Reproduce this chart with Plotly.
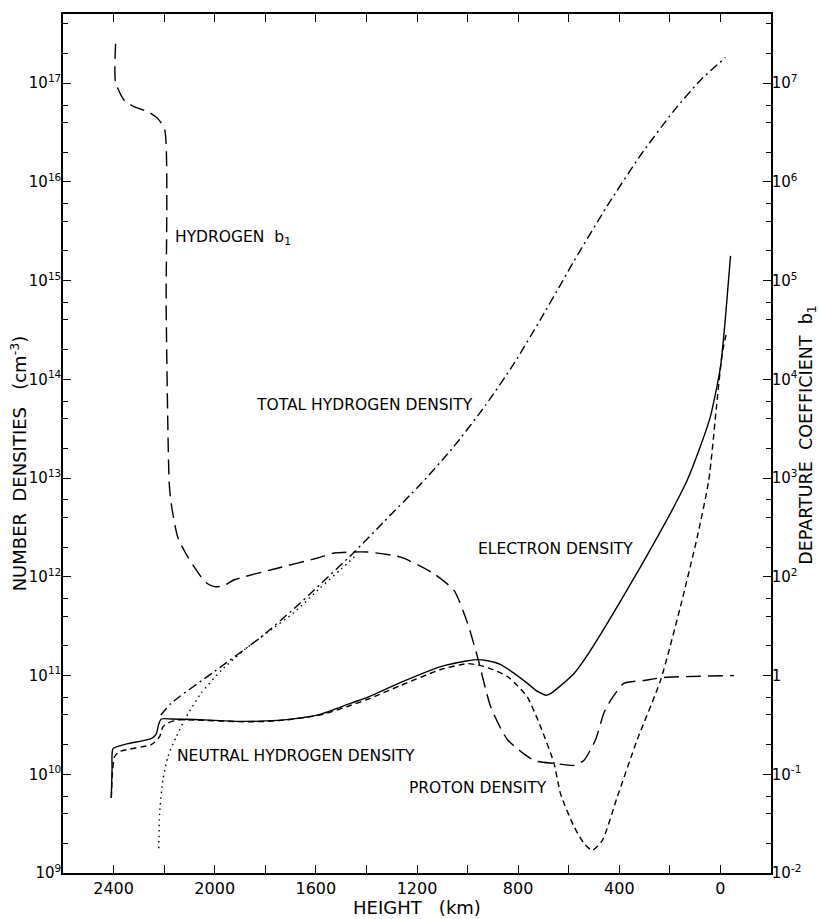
import plotly.graph_objects as go

# ---- Heights (km) and number densities (cm^-3) ----
height_e = [2409, 2406, 2402, 2343, 2251, 2231, 2221, 2211, 2172, 2080, 1960, 1882, 1751,
            1659, 1580, 1461, 1394, 1264, 1106, 1000, 961, 920, 869, 820, 763, 730, 700,
            691, 670, 640, 579, 520, 447, 380, 316, 250, 190, 131, 85, 40, 0, -20, -40]
electron = [5.75e9, 1.12e10, 1.82e10, 2.04e10, 2.29e10, 2.57e10, 3.24e10, 3.63e10, 3.63e10,
            3.59e10, 3.47e10, 3.43e10, 3.51e10, 3.72e10, 4.07e10, 5.25e10, 6.03e10, 8.51e10,
            1.23e11, 1.41e11, 1.45e11, 1.41e11, 1.29e11, 1.07e11, 8.32e10, 7.08e10, 6.46e10,
            6.31e10, 6.61e10, 7.59e10, 1.05e11, 1.70e11, 3.39e11, 6.61e11, 1.26e12, 2.51e12,
            4.79e12, 9.55e12, 1.91e13, 4.17e13, 1.32e14, 4.27e14, 1.78e15]

height_p = [2409, 2405, 2396, 2376, 2251, 2218, 2205, 2185, 2150, 2080, 1882, 1751, 1580,
            1461, 1395, 1264, 1106, 1000, 948, 900, 842, 800, 763, 711, 658, 632, 579, 540,
            507, 467, 408, 329, 237, 158, 92, 46, 13, -7, -22]
proton = [5.75e9, 1.0e10, 1.51e10, 1.70e10, 2.0e10, 2.40e10, 3.02e10, 3.31e10, 3.55e10,
          3.55e10, 3.40e10, 3.48e10, 4.0e10, 5.0e10, 5.75e10, 7.94e10, 1.15e11, 1.32e11,
          1.26e11, 1.15e11, 9.77e10, 7.76e10, 6.03e10, 3.02e10, 1.29e10, 6.3e9, 2.95e9,
          2.0e9, 1.70e9, 2.14e9, 5.89e9, 2.24e10, 8.91e10, 5.01e11, 2.51e12, 9.55e12,
          6.17e13, 1.82e14, 2.82e14]

height_n = [2221, 2218, 2205, 2185, 2152, 2113, 2054, 1975, 1883, 1790, 1685, 1586, 1500, 1440]
neutral = [1.78e9, 3.98e9, 8.71e9, 1.51e10, 2.40e10, 3.80e10, 6.61e10, 1.12e11, 1.82e11,
           2.75e11, 4.37e11, 7.59e11, 1.2e12, 1.66e12]

height_t = [2213, 2172, 2001, 1817, 1685, 1580, 1448, 1330, 1185, 1060, 928, 816, 711, 632,
            579, 447, 316, 184, 79, -20]
total_h = [3.98e10, 5.25e10, 1.10e11, 2.45e11, 4.79e11, 8.51e11, 1.78e12, 3.63e12, 8.71e12,
           2.0e13, 5.50e13, 1.45e14, 4.07e14, 9.12e14, 1.58e15, 5.75e15, 1.86e16, 5.25e16,
           1.07e17, 1.82e17]

# ---- Hydrogen ground-level departure coefficient ----
height_b = [2392, 2392, 2356, 2317, 2264, 2225, 2198, 2192, 2180, 2172, 2146, 2106, 2054,
            2028, 2001, 1965, 1922, 1764, 1593, 1527, 1395, 1264, 1132, 1053, 1000, 961, 908,
            842, 737, 658, 579, 540, 494, 461, 434, 382, 303, 224, -53]
b1 = [2.5e6, 1.02e6, 6.61e5, 5.75e5, 5.13e5, 4.37e5, 3.39e5, 5.01e3, 89.1, 55.0, 25.1, 15.8,
      10.0, 8.5, 7.94, 8.1, 9.33, 12.0, 15.5, 17.4, 17.8, 15.8, 10.7, 7.24, 3.39, 1.55, 0.479,
      0.224, 0.138, 0.129, 0.123, 0.138, 0.224, 0.417, 0.562, 0.832, 0.891, 0.955, 1.0]

# ---- Axis ticks ----
x_ticks = [2400, 2000, 1600, 1200, 800, 400, 0]
x_minor = [2200, 1800, 1400, 1000, 600, 200]
left_exp = list(range(9, 18))
right_labels = ["10<sup>-2</sup>", "10<sup>-1</sup>", "1", "10<sup>2</sup>", "10<sup>3</sup>",
                "10<sup>4</sup>", "10<sup>5</sup>", "10<sup>6</sup>", "10<sup>7</sup>"]
right_exp = list(range(-2, 7))

FONT = "DejaVu Sans"
INK = "black"

fig = go.Figure()
line_kw = dict(color=INK, width=1.4, shape="spline", smoothing=0.6)

fig.add_trace(go.Scatter(x=height_t, y=total_h, mode="lines",
                         line=dict(line_kw, dash="9px,4px,2px,4px")))
fig.add_trace(go.Scatter(x=height_n, y=neutral, mode="lines",
                         line=dict(line_kw, dash="1.5px,4px")))
fig.add_trace(go.Scatter(x=height_e, y=electron, mode="lines",
                         line=dict(line_kw, dash="solid")))
fig.add_trace(go.Scatter(x=height_p, y=proton, mode="lines",
                         line=dict(line_kw, dash="6px,4px")))
fig.add_trace(go.Scatter(x=height_b, y=b1, mode="lines", yaxis="y2",
                         line=dict(line_kw, dash="15px,7px")))

# Curve labels (positions in data coordinates; y in log10 units)
labels = [
    ("HYDROGEN  b<sub>1</sub>", 2164, 15.43),
    ("TOTAL HYDROGEN DENSITY", 1844, 13.74),
    ("ELECTRON DENSITY", 968, 12.28),
    ("NEUTRAL HYDROGEN DENSITY", 2156, 10.18),
    ("PROTON DENSITY", 1240, 9.86),
]
for text, hx, ly in labels:
    fig.add_annotation(x=hx, y=ly, xref="x", yref="y", text=text, showarrow=False,
                       xanchor="left", yanchor="middle",
                       font=dict(family=FONT, size=15.5, color=INK))

# Axis titles
fig.add_annotation(x=-0.062, y=0.477, xref="paper", yref="paper",
                   text="NUMBER  DENSITIES   (cm<sup>-3</sup>)", textangle=-90,
                   showarrow=False, xanchor="center", yanchor="middle",
                   font=dict(family=FONT, size=18, color=INK))
fig.add_annotation(x=1.052, y=0.51, xref="paper", yref="paper",
                   text="DEPARTURE  COEFFICIENT  b<sub>1</sub>", textangle=-90,
                   showarrow=False, xanchor="center", yanchor="middle",
                   font=dict(family=FONT, size=17.5, color=INK))
fig.add_annotation(x=0.5, y=-0.040, xref="paper", yref="paper",
                   text="HEIGHT   (km)", showarrow=False,
                   xanchor="center", yanchor="middle",
                   font=dict(family=FONT, size=18, color=INK))

minor_left = [m * 10 ** e for e in range(9, 18) for m in (2, 4, 6)]
minor_right = [m * 10.0 ** e for e in range(-2, 7) for m in (2, 4, 6)]

tick_font = dict(family=FONT, size=15, color=INK)

fig.update_layout(
    width=819, height=919,
    margin=dict(l=63, r=48, t=12, b=46),
    paper_bgcolor="white", plot_bgcolor="white",
    showlegend=False,
    font=dict(family=FONT, size=15, color=INK),
    xaxis=dict(
        range=[2600, -200], tickmode="array", tickvals=x_ticks,
        ticktext=[str(v) for v in x_ticks],
        ticks="inside", ticklen=8, tickwidth=1.2, tickcolor=INK,
        minor=dict(tickmode="array", tickvals=x_minor, ticks="inside",
                   ticklen=8, tickwidth=1.2, tickcolor=INK),
        showline=True, linecolor=INK, linewidth=1.5, mirror="ticks",
        showgrid=False, zeroline=False,
        tickfont=dict(family=FONT, size=16, color=INK),
    ),
    yaxis=dict(
        type="log", range=[9, 17.7], tickmode="array",
        tickvals=[10 ** e for e in left_exp],
        ticktext=[f"10<sup>{e}</sup>" for e in left_exp],
        ticks="inside", ticklen=8, tickwidth=1.2, tickcolor=INK,
        minor=dict(tickmode="array", tickvals=minor_left, ticks="inside",
                   ticklen=5, tickwidth=1.2, tickcolor=INK),
        showline=True, linecolor=INK, linewidth=1.5, mirror=True,
        showgrid=False, zeroline=False, tickfont=tick_font,
        ticklabelstandoff=-3,
    ),
    yaxis2=dict(
        type="log", range=[-2, 6.7], overlaying="y", side="right",
        tickmode="array", tickvals=[10.0 ** e for e in right_exp],
        ticktext=right_labels,
        ticks="inside", ticklen=8, tickwidth=1.2, tickcolor=INK,
        minor=dict(tickmode="array", tickvals=minor_right, ticks="inside",
                   ticklen=5, tickwidth=1.2, tickcolor=INK),
        showline=True, linecolor=INK, linewidth=1.5,
        showgrid=False, zeroline=False, tickfont=tick_font,
        ticklabelstandoff=-4,
    ),
)

fig.write_html("out.html")
